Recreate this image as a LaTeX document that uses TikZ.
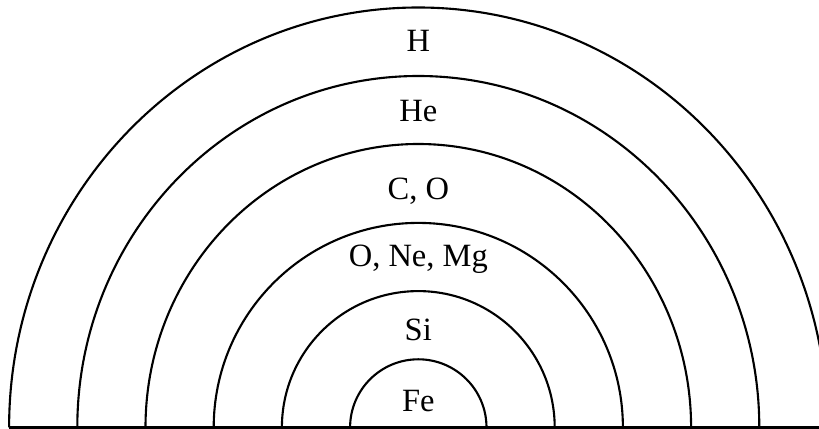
\documentclass[tikz,border=0pt]{standalone}
\usepackage{fontspec}
\setmainfont{Liberation Serif}
\usetikzlibrary{positioning}

\begin{document}
\begin{tikzpicture}[
  x=0.02cm, y=0.02cm,
  shell/.style={draw=black, line width=1.2pt},
  elem/.style={font=\fontsize{18.5}{22}\selectfont, anchor=base, inner sep=0pt}
]
\useasboundingbox (0,0) rectangle (819,429);
\clip (0,0) rectangle (819,429);

% centre of the star and right end of the ground line
\coordinate (core) at (418.3,1.5);
\coordinate (rim) at (830,1.5);

% Shells, inner to outer
\draw[shell] (core) ++(-68.2,0)  arc[start angle=180, end angle=0, x radius=68.2,  y radius=68.2];
\draw[shell] (core) ++(-136.4,0) arc[start angle=180, end angle=0, x radius=136.4, y radius=136.4];
\draw[shell] (core) ++(-204.6,0) arc[start angle=180, end angle=0, x radius=204.6, y radius=204.6];
\draw[shell] (core) ++(-272.8,0) arc[start angle=180, end angle=0, x radius=272.8, y radius=283.5];
\draw[shell] (core) ++(-341,0)   arc[start angle=180, end angle=0, x radius=341,   y radius=351.5];
\draw[shell] (core) ++(-409.2,0) arc[start angle=180, end angle=0, x radius=409.2, y radius=420];

% Ground line
\draw[shell] (core) ++(-409.2,0) -- (rim);

% Element labels
\node[elem] (fe)   at (418.3,17)  {Fe};
\node[elem] (si)   at (418.3,88)  {Si};
\node[elem] (onem) at (418.3,162) {O, Ne, Mg};
\node[elem] (co)   at (418.3,229) {C, O};
\node[elem] (he)   at (418.3,307) {He};
\node[elem] (h)    at (418.3,377) {H};

\end{tikzpicture}
\end{document}
